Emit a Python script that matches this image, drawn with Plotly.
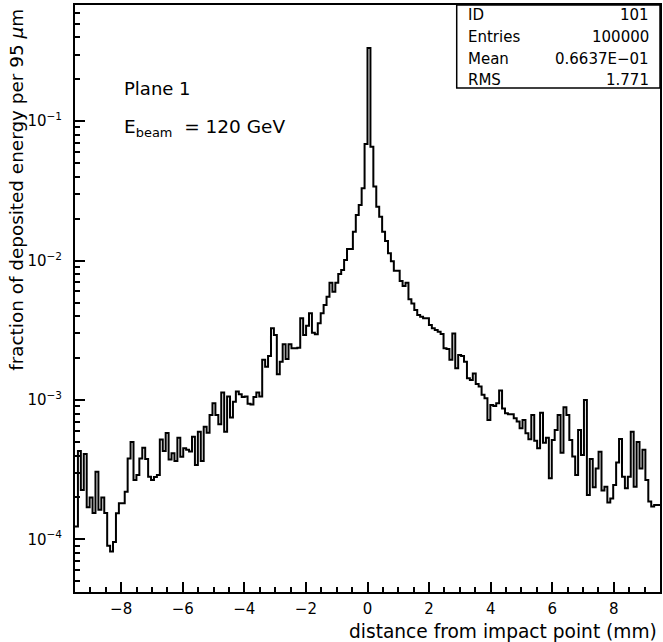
import numpy as np
import plotly.graph_objects as go

# Histogram: fraction of deposited energy per 95 um bin, x from -9.5 to 9.5 mm (200 bins)
x_min, x_max, n_bins = -9.5, 9.5, 200
values = [
    1.24e-4, 4.3e-4, 2.26e-4, 4.1e-4, 1.7e-4, 2.0e-4, 1.55e-4, 3.06e-4, 1.63e-4, 2.0e-4,
    1.55e-4, 9.0e-5, 8.2e-5, 9.6e-5, 1.54e-4, 1.82e-4, 1.82e-4, 2.2e-4, 3.8e-4, 5.0e-4,
    2.67e-4, 2.9e-4, 3.8e-4, 4.55e-4, 3.78e-4, 2.82e-4, 2.67e-4, 2.8e-4, 2.9e-4, 5.2e-4,
    4.3e-4, 5.8e-4, 3.75e-4, 4.15e-4, 3.66e-4, 5.37e-4, 3.92e-4, 4.5e-4, 4.4e-4, 4.27e-4,
    5.46e-4, 3.42e-4, 5.93e-4, 3.66e-4, 6.44e-4, 5.83e-4, 7.8e-4, 9.46e-4, 7.8e-4, 6.7e-4,
    1.13e-3, 5.93e-4, 1.06e-3, 7.5e-4, 9.7e-4, 1.15e-3, 1.1e-3, 1.05e-3, 1.06e-3, 9.4e-4,
    9.3e-4, 1.05e-3, 1.13e-3, 1.06e-3, 1.94e-3, 1.73e-3, 2.07e-3, 3.27e-3, 2.92e-3, 1.53e-3,
    1.88e-3, 2.51e-3, 1.97e-3, 2.51e-3, 2.35e-3, 2.35e-3, 2.37e-3, 3.85e-3, 2.92e-3, 3.41e-3,
    4.19e-3, 3.04e-3, 2.96e-3, 3.55e-3, 4.19e-3, 4.8e-3, 5.5e-3, 6.94e-3, 5.98e-3, 6.94e-3,
    8.0e-3, 8.55e-3, 1.01e-2, 1.21e-2, 1.21e-2, 1.61e-2, 2.12e-2, 2.5e-2, 3.3e-2, 6.84e-2,
    0.335, 6.55e-2, 3.4e-2, 2.43e-2, 2.06e-2, 1.61e-2, 1.38e-2, 1.13e-2, 9.9e-3, 8.45e-3,
    8.45e-3, 7.13e-3, 6.56e-3, 6.94e-3, 5.27e-3, 4.93e-3, 4.42e-3, 4.07e-3, 3.96e-3, 3.85e-3,
    3.85e-3, 3.45e-3, 3.27e-3, 3.18e-3, 3.09e-3, 2.97e-3, 2.35e-3, 2.32e-3, 1.94e-3, 3.0e-3,
    1.69e-3, 2.1e-3, 2.07e-3, 1.88e-3, 1.43e-3, 1.39e-3, 1.55e-3, 1.3e-3, 1.25e-3, 1.09e-3,
    1.03e-3, 7.2e-4, 9.2e-4, 9.06e-4, 9.46e-4, 1.17e-3, 8.7e-4, 8.03e-4, 7.9e-4, 7.9e-4,
    7.4e-4, 7.0e-4, 6.26e-4, 7.2e-4, 5.77e-4, 5.23e-4, 7.8e-4, 5.1e-4, 4.5e-4, 8.1e-4,
    4.94e-4, 5.37e-4, 2.75e-4, 5.16e-4, 6.1e-4, 7.8e-4, 4.19e-4, 8.87e-4, 7.8e-4, 5.16e-4,
    3.93e-4, 2.9e-4, 6.1e-4, 4.04e-4, 1.0e-3, 2.08e-4, 3.78e-4, 2.37e-4, 3.23e-4, 4.26e-4,
    2.24e-4, 2.39e-4, 1.84e-4, 1.97e-4, 2.46e-4, 3.56e-4, 5.25e-4, 2.82e-4, 2.33e-4, 2.82e-4,
    5.93e-4, 2.39e-4, 5.0e-4, 3.23e-4, 4.39e-4, 2.67e-4, 1.87e-4, 1.72e-4, 1.77e-4, 1.77e-4,
]

x_ticks = [-8, -6, -4, -2, 0, 2, 4, 6, 8]
y_ticks = [1e-4, 1e-3, 1e-2, 1e-1]
y_ticktext = ["10<sup>\u22124</sup>", "10<sup>\u22123</sup>", "10<sup>\u22122</sup>", "10<sup>\u22121</sup>"]

stat_labels = ["ID", "Entries", "Mean", "RMS"]
stat_values = ["101", "100000", "0.6637E\u221201", "1.771"]

edges = np.linspace(x_min, x_max, n_bins + 1)
xs = list(edges)
ys = list(values) + [values[-1]]

FONT = "DejaVu Sans"

fig = go.Figure()
fig.add_trace(go.Scatter(x=xs, y=ys, mode="lines", line=dict(color="black", width=2, shape="hv"),
                         showlegend=False, hoverinfo="skip"))

minor_y = [m * 10.0 ** e for e in range(-5, 0) for m in range(2, 10)]

fig.update_layout(
    width=663, height=642,
    margin=dict(l=75, r=1, t=5, b=50),
    paper_bgcolor="white", plot_bgcolor="white",
    font=dict(family=FONT, color="black", size=16),
    xaxis=dict(range=[x_min, x_max], showgrid=False, zeroline=False,
               showline=True, linecolor="black", linewidth=2, mirror=True,
               ticks="inside", ticklen=10, tickwidth=1.5, tickcolor="black",
               tickvals=x_ticks, tickfont=dict(size=15, family=FONT),
               ticklabelstandoff=2,
               minor=dict(ticks="inside", ticklen=5, tickwidth=1.5, tickcolor="black", dtick=0.5, tick0=0)),
    yaxis=dict(type="log", range=[np.log10(4.2e-5), np.log10(0.68)], showgrid=False, zeroline=False,
               showline=True, linecolor="black", linewidth=2, mirror=True,
               ticks="inside", ticklen=10, tickwidth=1.5, tickcolor="black",
               tickvals=y_ticks, ticktext=y_ticktext, tickfont=dict(size=15, family=FONT),
               ticklabelstandoff=8,
               minor=dict(ticks="inside", ticklen=5, tickwidth=1.5, tickcolor="black",
                          tickmode="array", tickvals=minor_y)),
)

# axis titles
fig.add_annotation(text="distance from impact point (mm)", xref="paper", yref="paper",
                   x=0.998, y=-0.046, xanchor="right", yanchor="top", showarrow=False,
                   font=dict(size=18.6, family=FONT))
fig.add_annotation(text="fraction of deposited energy per 95 <i>\u03bc</i>m", xref="paper", yref="paper",
                   x=-0.099, y=0.997, xanchor="center", yanchor="top", textangle=-90, showarrow=False,
                   font=dict(size=18.4, family=FONT))

# in-plot labels
fig.add_annotation(text="Plane 1", xref="paper", yref="paper", x=0.08, y=0.858,
                   xanchor="left", yanchor="middle", showarrow=False, font=dict(size=18, family=FONT))
fig.add_annotation(text="E<sub>beam</sub> \u00a0= 120 GeV", xref="paper", yref="paper", x=0.08, y=0.79,
                   xanchor="left", yanchor="middle", showarrow=False, font=dict(size=18.5, family=FONT))

# statistics box
box_x0, box_y0 = 0.6525, 0.8586
fig.add_shape(type="rect", xref="paper", yref="paper", x0=box_x0, y0=box_y0, x1=1.0, y1=1.0,
              line=dict(color="black", width=1.5), fillcolor="white")
row_y = [0.983, 0.9455, 0.908, 0.872]
for lab, val, yy in zip(stat_labels, stat_values, row_y):
    fig.add_annotation(text=lab, xref="paper", yref="paper", x=0.668, y=yy, xanchor="left",
                       yanchor="middle", showarrow=False, font=dict(size=15, family=FONT))
    fig.add_annotation(text=val, xref="paper", yref="paper", x=0.985, y=yy, xanchor="right",
                       yanchor="middle", showarrow=False, font=dict(size=15, family=FONT))

fig.write_html("out.html")
